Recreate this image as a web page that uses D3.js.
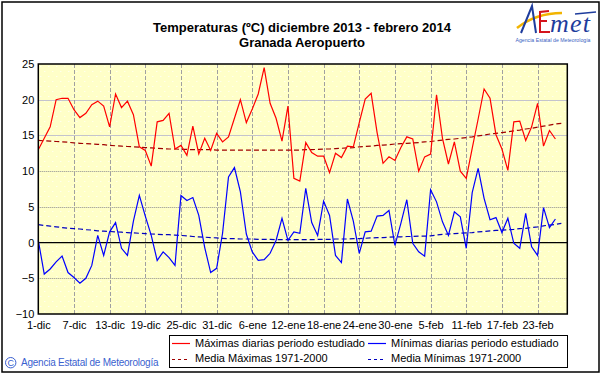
<!DOCTYPE html>
<html><head><meta charset="utf-8">
<script src="https://cdn.jsdelivr.net/npm/d3@7"></script>
<style>
html,body{margin:0;padding:0;background:#fff;}
svg{display:block;font-family:"Liberation Sans",Arial,sans-serif;}
</style></head><body>
<svg id="c" width="601" height="374"></svg>
<script>
// ---- data ----
const titleLines = ["Temperaturas (ºC) diciembre 2013 - febrero 2014", "Granada Aeropuerto"];
const tickLabels = ["1-dic","7-dic","13-dic","19-dic","25-dic","31-dic","6-ene","12-ene","18-ene","24-ene","30-ene","5-feb","11-feb","17-feb","23-feb"];
const tickDays = [0,6,12,18,24,30,36,42,48,54,60,66,72,78,84];
const yTicks = [-10,-5,0,5,10,15,20,25];
const legendLabels = ["Máximas diarias periodo estudiado","Mínimas diarias periodo estudiado","Media Máximas 1971-2000","Media Mínimas 1971-2000"];

const maxDaily = [13.0,14.6,16.2,20.0,20.2,20.2,18.6,17.5,18.1,19.3,
 19.8,19.1,16.2,20.8,18.9,19.8,17.9,13.4,12.9,10.7,
 16.9,17.1,18.1,13.1,13.6,12.2,16.3,12.4,14.6,12.9,
 15.3,14.1,14.8,17.4,20.0,16.8,18.7,20.8,24.5,19.5,
 17.4,14.2,19.1,9.0,8.6,14.0,12.6,12.1,12.1,9.8,
 12.5,11.9,13.5,13.4,16.8,20.1,20.9,15.4,11.1,12.0,
 11.5,13.3,14.8,14.5,10.0,12.0,12.4,20.7,14.6,11.0,
 14.1,10.0,9.0,13.2,17.3,21.5,20.2,15.1,13.1,10.1,
 16.9,17.0,14.3,16.2,19.5,13.5,15.7,14.5];

const minDaily = [0.3,-4.4,-3.7,-2.7,-1.9,-4.2,-4.9,-5.7,-5.0,-3.2,
 1.0,-1.8,1.5,2.8,-0.8,-1.8,3.0,6.6,3.7,1.0,
 -2.5,-1.3,-2.1,-3.2,6.6,5.9,6.3,3.8,-0.7,-4.2,
 -3.6,1.3,9.2,10.5,7.1,1.2,-1.3,-2.5,-2.4,-1.5,
 0.3,3.4,0.3,1.5,1.3,7.6,2.8,1.0,5.8,3.8,
 -1.8,-2.8,6.1,3.0,-1.5,1.5,1.6,3.7,3.8,4.5,
 -0.4,2.7,6.0,-0.1,-1.3,-1.9,7.4,5.7,2.9,1.0,
 4.3,3.6,-0.8,7.0,10.4,6.2,3.2,3.5,1.4,3.4,
 -0.1,-0.8,4.1,-0.6,-1.8,4.9,2.1,3.3];

const meanMax = [14.3,14.25,14.2,14.15,14.1,14.05,13.95,13.9,13.85,13.8,
 13.75,13.7,13.6,13.55,13.5,13.45,13.4,13.35,13.3,13.25,
 13.2,13.15,13.1,13.1,13.05,13.05,13.0,13.0,13.0,13.0,
 12.95,12.95,12.95,12.95,12.95,12.95,12.95,12.95,12.95,12.95,
 12.95,12.95,12.95,12.95,12.95,13.0,13.0,13.05,13.1,13.1,
 13.15,13.2,13.25,13.3,13.4,13.45,13.5,13.6,13.65,13.7,
 13.8,13.85,13.9,13.95,14.0,14.1,14.15,14.25,14.35,14.45,
 14.5,14.6,14.7,14.8,14.95,15.05,15.2,15.3,15.4,15.5,
 15.65,15.75,15.9,16.0,16.15,16.3,16.45,16.6,16.7];

const meanMin = [2.5,2.4,2.3,2.2,2.1,2.0,1.95,1.9,1.8,1.75,
 1.65,1.6,1.55,1.5,1.45,1.4,1.35,1.3,1.25,1.2,
 1.15,1.1,1.1,1.05,1.0,0.95,0.85,0.8,0.75,0.7,
 0.65,0.6,0.55,0.55,0.5,0.5,0.5,0.45,0.45,0.45,
 0.4,0.4,0.4,0.4,0.4,0.4,0.4,0.45,0.45,0.45,
 0.5,0.5,0.5,0.55,0.55,0.6,0.65,0.7,0.7,0.75,
 0.8,0.8,0.85,0.85,0.9,0.9,0.95,1.05,1.15,1.2,
 1.25,1.3,1.35,1.4,1.5,1.55,1.65,1.7,1.75,1.8,
 1.85,1.95,2.0,2.1,2.2,2.35,2.45,2.55,2.7];

// ---- layout ----
const svg = d3.select("#c");
const P = {l:38.3, r:567.3, t:64, b:314};
const x = d3.scaleLinear().domain([0,89]).range([P.l,P.r]);
const y = d3.scaleLinear().domain([-10,25]).range([P.b,P.t]);

// outer frame
svg.append("rect").attr("x",2).attr("y",2).attr("width",597).attr("height",370)
  .attr("fill","#fff").attr("stroke","#000").attr("stroke-width",1.5);

// title
svg.append("text").attr("x",302).attr("y",31.7).attr("text-anchor","middle")
  .attr("font-size",13).attr("font-weight","bold").attr("fill","#000").text(titleLines[0]);
svg.append("text").attr("x",302).attr("y",47.3).attr("text-anchor","middle")
  .attr("font-size",13).attr("font-weight","bold").attr("fill","#000").text(titleLines[1]);

// logo
const logo = svg.append("g");
logo.append("path").attr("d","M517,28 Q536,13 562,13").attr("fill","none").attr("stroke","#f2b400").attr("stroke-width",2.5);
logo.append("path").attr("d","M521,33 L532,6 L536,33").attr("fill","none").attr("stroke","#1e3c9c").attr("stroke-width",2);
logo.append("path").attr("d","M549,11 L540,12 L540,32 L550,32 M540,21 L547,21").attr("fill","none").attr("stroke","#d4141c").attr("stroke-width",2);
logo.append("text").attr("x",550).attr("y",32).attr("font-size",26).attr("font-style","italic")
  .attr("font-family","Liberation Serif, serif").attr("fill","#1e3c9c").attr("textLength",40).text("met");
logo.append("path").attr("d","M575,14 L596,12").attr("stroke","#1e3c9c").attr("stroke-width",1.5);
logo.append("text").attr("x",553).attr("y",41.5).attr("text-anchor","middle").attr("font-size",5.5)
  .attr("fill","#3a5fbf").attr("textLength",75).attr("lengthAdjust","spacingAndGlyphs").text("Agencia Estatal de Meteorología");

// plot background
const defs = svg.append("defs");
const pat = defs.append("pattern").attr("id","dots").attr("patternUnits","userSpaceOnUse")
  .attr("width",8).attr("height",10).attr("x",P.l).attr("y",P.t);
pat.append("rect").attr("width",8).attr("height",10).attr("fill","#ffffc8");
pat.append("rect").attr("x",2).attr("y",2).attr("width",1).attr("height",1).attr("fill","#fff");
pat.append("rect").attr("x",6).attr("y",7).attr("width",1).attr("height",1).attr("fill","#fff");
svg.append("rect").attr("x",P.l).attr("y",P.t).attr("width",P.r-P.l).attr("height",P.b-P.t).attr("fill","url(#dots)");

// horizontal grid
yTicks.filter(v=>v!==0 && v!==25 && v!==-10).forEach(v=>{
  const solid = v>=15;
  svg.append("line").attr("x1",P.l).attr("x2",P.r).attr("y1",Math.round(y(v))+0.5).attr("y2",Math.round(y(v))+0.5)
    .attr("stroke", solid ? "#c4c4cc" : "#8c8c8c").attr("stroke-width",1)
    .attr("stroke-dasharray", solid ? null : "1,1");
});
// vertical grid
tickDays.filter(d=>d>0).forEach(d=>{
  svg.append("line").attr("x1",Math.round(x(d))+0.5).attr("x2",Math.round(x(d))+0.5).attr("y1",P.t).attr("y2",P.b)
    .attr("stroke","#a0a0a0").attr("stroke-width",1).attr("stroke-dasharray","4,2");
});
// zero line
svg.append("line").attr("x1",P.l).attr("x2",P.r).attr("y1",y(0)).attr("y2",y(0)).attr("stroke","#000").attr("stroke-width",1.3);

// series
const line = d3.line().x((d,i)=>x(i)).y(d=>y(d));
svg.append("path").datum(meanMax).attr("d",line).attr("fill","none").attr("stroke","#a00000").attr("stroke-width",1.2).attr("stroke-dasharray","5,3");
svg.append("path").datum(meanMin).attr("d",line).attr("fill","none").attr("stroke","#0000c0").attr("stroke-width",1.2).attr("stroke-dasharray","5,3");
svg.append("path").datum(maxDaily).attr("d",line).attr("fill","none").attr("stroke","#ff0000").attr("stroke-width",1.2);
svg.append("path").datum(minDaily).attr("d",line).attr("fill","none").attr("stroke","#0000ff").attr("stroke-width",1.2);

// plot border
svg.append("rect").attr("x",P.l).attr("y",P.t).attr("width",P.r-P.l).attr("height",P.b-P.t)
  .attr("fill","none").attr("stroke","#000").attr("stroke-width",1.5);

// axes
const ya = svg.append("g").attr("transform",`translate(${P.l},0)`)
  .call(d3.axisLeft(y).tickValues(yTicks).tickSize(0).tickPadding(4).tickFormat(d3.format("d")));
ya.select(".domain").remove();
ya.selectAll("text").attr("font-size",11).attr("font-family","Liberation Sans, Arial, sans-serif").attr("fill","#000");

const xa = svg.append("g").attr("transform",`translate(0,${P.b})`)
  .call(d3.axisBottom(x).tickValues(tickDays).tickSize(0).tickPadding(7.5).tickFormat((d,i)=>tickLabels[i]));
xa.select(".domain").remove();
xa.selectAll("text").attr("font-size",11).attr("font-family","Liberation Sans, Arial, sans-serif").attr("fill","#000");

// legend
const lg = svg.append("g");
lg.append("rect").attr("x",169.5).attr("y",335.5).attr("width",398).attr("height",32)
  .attr("fill","#fff").attr("stroke","#000").attr("stroke-width",1);
const items = [
  {c:"#ff0000",d:null,x:172,ty:346.8,ly:343.5,t:legendLabels[0]},
  {c:"#0000ff",d:null,x:368,ty:346.8,ly:343.5,t:legendLabels[1]},
  {c:"#a00000",d:"3,3",x:172,ty:362.3,ly:359.5,t:legendLabels[2]},
  {c:"#0000c0",d:"3,3",x:368,ty:362.3,ly:359.5,t:legendLabels[3]}
];
items.forEach(it=>{
  lg.append("line").attr("x1",it.x).attr("x2",it.x+18).attr("y1",it.ly).attr("y2",it.ly)
    .attr("stroke",it.c).attr("stroke-width",1.2).attr("stroke-dasharray",it.d);
  lg.append("text").attr("x",it.x+23).attr("y",it.ty).attr("font-size",11).attr("fill","#000").text(it.t);
});

// copyright
svg.append("circle").attr("cx",10.7).attr("cy",362.7).attr("r",5.2).attr("fill","none").attr("stroke","#3a5fcf").attr("stroke-width",1);
svg.append("text").attr("x",10.7).attr("y",366).attr("text-anchor","middle").attr("font-size",9).attr("fill","#3a5fcf").text("C");
svg.append("text").attr("x",21).attr("y",365.5).attr("font-size",10).attr("fill","#3a5fcf")
  .attr("textLength",137.5).attr("lengthAdjust","spacing").text("Agencia Estatal de Meteorología");
</script>
</body></html>
